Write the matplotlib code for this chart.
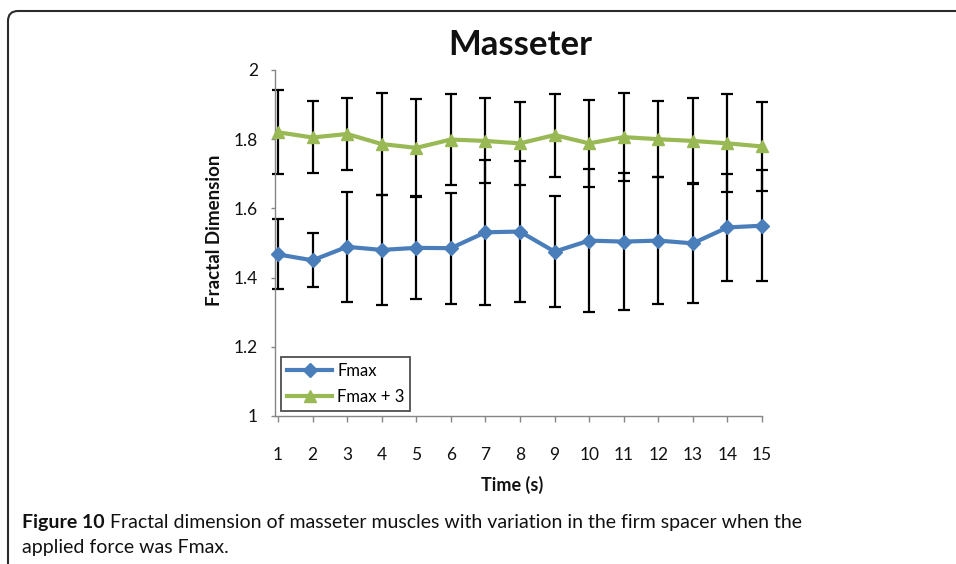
import matplotlib
matplotlib.use("Agg")
import matplotlib.pyplot as plt
from matplotlib.patches import FancyBboxPatch
from matplotlib.transforms import IdentityTransform

# ---- data ----
time_s = list(range(1, 16))
fmax = [1.467, 1.450, 1.489, 1.480, 1.486, 1.485, 1.531, 1.533, 1.475, 1.507,
        1.504, 1.507, 1.499, 1.545, 1.550]
fmax_err = [0.101, 0.078, 0.159, 0.160, 0.148, 0.160, 0.210, 0.203, 0.161, 0.206,
            0.199, 0.183, 0.171, 0.155, 0.160]
fmax3 = [1.820, 1.805, 1.815, 1.786, 1.775, 1.799, 1.795, 1.788, 1.812, 1.788,
         1.806, 1.800, 1.795, 1.788, 1.779]
fmax3_err = [0.122, 0.104, 0.104, 0.147, 0.140, 0.131, 0.123, 0.120, 0.120, 0.125,
             0.127, 0.110, 0.123, 0.142, 0.129]
y_ticks = [1, 1.2, 1.4, 1.6, 1.8, 2]
y_tick_labels = ["1", "1.2", "1.4", "1.6", "1.8", "2"]
series_labels = ["Fmax", "Fmax + 3"]

BLUE = "#4a7ebb"
GREEN = "#98b954"
AXIS_GRAY = "#868686"

plt.rcParams["font.family"] = ["Lato", "DejaVu Sans"]

W, H = 956, 564
fig = plt.figure(figsize=(W / 100, H / 100), dpi=100)

# rounded frame (figure panel border)
frame = FancyBboxPatch((8, -30), 1100, (H - 11) + 30,
                       boxstyle="round,pad=0,rounding_size=10",
                       transform=IdentityTransform(), facecolor="none",
                       edgecolor="#2b2b2b", linewidth=1.5)
fig.add_artist(frame)

ax_left, ax_right, ax_top, ax_bottom = 274.5, 762, 70, 416
ax = fig.add_axes([ax_left / W, 1 - ax_bottom / H, (ax_right - ax_left) / W,
                   (ax_bottom - ax_top) / H])

ax.errorbar(time_s, fmax3, yerr=fmax3_err, fmt="none", ecolor="black",
            elinewidth=1.6, capsize=4, capthick=1.6, zorder=2, clip_on=False)
ax.errorbar(time_s, fmax, yerr=fmax_err, fmt="none", ecolor="black",
            elinewidth=1.6, capsize=4, capthick=1.6, zorder=2, clip_on=False)

ax.plot(time_s, fmax, color=BLUE, lw=3, marker="D", ms=7,
        mfc=BLUE, mec=BLUE, label=series_labels[0], zorder=4, clip_on=False)
ax.plot(time_s, fmax3, color=GREEN, lw=3, marker="^", ms=9,
        mfc=GREEN, mec=GREEN, label=series_labels[1], zorder=3, clip_on=False)

ax.set_xlim(0.9, 15)
ax.set_ylim(1, 2)
ax.set_xticks(time_s)
ax.set_xticklabels([str(t) for t in time_s])
ax.set_yticks(y_ticks)
ax.set_yticklabels(y_tick_labels)

for s in ["top", "right"]:
    ax.spines[s].set_visible(False)
for s in ["left", "bottom"]:
    ax.spines[s].set_color(AXIS_GRAY)
    ax.spines[s].set_linewidth(1.0)

ax.tick_params(axis="x", direction="out", length=4, width=1, color=AXIS_GRAY,
               labelsize=12.5, pad=18, labelcolor="#111111")
ax.tick_params(axis="y", direction="out", length=3, width=1, color=AXIS_GRAY,
               labelsize=12.5, pad=9, labelcolor="#111111")

leg = ax.legend(loc="lower left", bbox_to_anchor=(0.014, 0.0145),
                borderaxespad=0, frameon=True, fancybox=False,
                fontsize=12, handlelength=2.7, handletextpad=0.3,
                labelspacing=0.6, borderpad=0.35)
leg.get_frame().set_edgecolor("#222222")
leg.get_frame().set_linewidth(1.3)

# title & axis labels
fig.text(520 / W, 1 - 55 / H, "Masseter", ha="center", va="baseline",
         fontsize=25, fontweight="bold", color="#111111")
fig.text(512 / W, 1 - 485 / H, "Time (s)", ha="center", va="center",
         fontsize=13, fontweight="bold", color="#111111")
fig.text(215 / W, 1 - 230 / H, "Fractal Dimension", ha="center", va="center",
         rotation=90, fontsize=13.5, fontweight="bold", color="#111111")

# caption
cap_fs = 14
t1 = fig.text(22 / W, 1 - 528 / H, "Figure 10", ha="left", va="baseline",
              fontsize=cap_fs, fontweight="bold", color="#111111")
ax.annotate(" Fractal dimension of masseter muscles with variation in the firm spacer when the",
            xy=(1, 0), xycoords=t1, va="bottom", ha="left",
            fontsize=cap_fs, color="#111111", annotation_clip=False)
fig.text(22 / W, 1 - 553 / H, "applied force was Fmax.", ha="left", va="baseline",
         fontsize=cap_fs, color="#111111")

fig.savefig("out.png", dpi=100)
